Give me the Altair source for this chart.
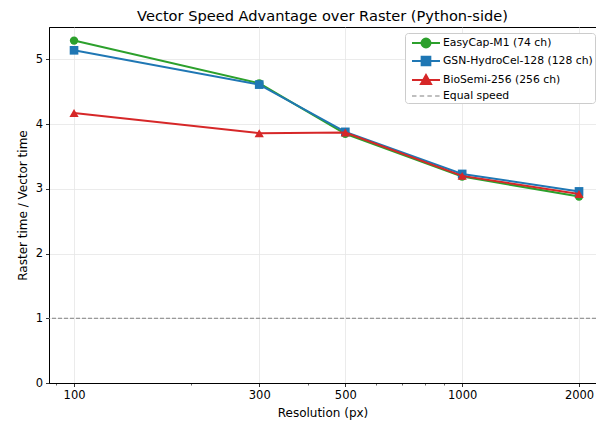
import altair as alt
import pandas as pd

resolution = [100, 300, 500, 1000, 2000]
easycap = [5.29, 4.63, 3.85, 3.19, 2.88]
gsn = [5.14, 4.61, 3.88, 3.23, 2.96]
biosemi = [4.17, 3.86, 3.87, 3.20, 2.92]

series_names = ["EasyCap-M1 (74 ch)", "GSN-HydroCel-128 (128 ch)", "BioSemi-256 (256 ch)"]
series_values = [easycap, gsn, biosemi]
series_colors = ["#2ca02c", "#1f77b4", "#d62728"]
series_shapes = ["circle", "square", "triangle-up"]
series_sizes = [70, 75, 85]
equal_label = "Equal speed"
equal_value = 1.0

x_ticks = [100, 300, 500, 1000, 2000]
x_minor = [90, 200, 400, 600, 700, 800, 900]
y_ticks = [0, 1, 2, 3, 4, 5]

FONT = "DejaVu Sans"

major_test = "indexof([" + ",".join(str(v) for v in x_ticks) + "], datum.value) >= 0"

xscale = alt.Scale(type="log", domain=[86.2, 2212], nice=False)
yscale = alt.Scale(domain=[0, 5.5], nice=False, zero=False)
color_scale = alt.Scale(domain=series_names, range=series_colors)

x_axis = alt.Axis(
    values=sorted(x_ticks + x_minor), title="Resolution (px)", grid=True,
    labelExpr=major_test + " ? format(datum.value, 'd') : ''",
    tickSize={"condition": {"test": major_test, "value": 3.5}, "value": 2},
    tickWidth={"condition": {"test": major_test, "value": 0.8}, "value": 0.6},
    gridOpacity={"condition": {"test": major_test, "value": 1}, "value": 0},
    labelFont=FONT, labelFontSize=11.5, labelColor="black",
    titleFont=FONT, titleFontSize=12, titleColor="black", titleFontWeight="normal",
    titlePadding=6,
)
y_axis = alt.Axis(
    values=y_ticks, format="d", title="Raster time / Vector time", grid=True,
    labelFont=FONT, labelFontSize=11.5, labelColor="black",
    titleFont=FONT, titleFontSize=12, titleColor="black", titleFontWeight="normal",
    titlePadding=6,
)

layers = []
for name, vals, shp, sz in zip(series_names, series_values, series_shapes, series_sizes):
    df = pd.DataFrame({"res": resolution, "ratio": vals, "series": name})
    base = alt.Chart(df).encode(
        x=alt.X("res:Q", scale=xscale, axis=x_axis),
        y=alt.Y("ratio:Q", scale=yscale, axis=y_axis),
        color=alt.Color("series:N", scale=color_scale, legend=None),
    )
    layers.append(base.mark_line(strokeWidth=2))
    layers.append(base.mark_point(shape=shp, filled=True, opacity=1, size=sz))

rule_df = pd.DataFrame({"y": [equal_value]})
rule = alt.Chart(rule_df).mark_rule(color="#808080", strokeWidth=1, strokeDash=[4, 2]).encode(
    y=alt.Y("y:Q", scale=yscale)
)

# legend layer (no visible marks)
legend_names = series_names + [equal_label]
legend_fill = series_colors + ["#808080"]
legend_stroke = series_colors + ["transparent"]
legend_paths = [
    "M-0.43,0L3.57,0M2.21,0A0.64,0.64,0,1,1,0.93,0A0.64,0.64,0,1,1,2.21,0Z",
    "M-0.43,0L3.57,0M0.95,-0.62L2.19,-0.62L2.19,0.62L0.95,0.62Z",
    "M-0.43,0L3.57,0M1.57,-0.72L2.29,0.56L0.85,0.56Z",
    "M-0.43,-0.08L0.21,-0.08L0.21,0.08L-0.43,0.08Z"
    "M0.67,-0.08L1.31,-0.08L1.31,0.08L0.67,0.08Z"
    "M1.77,-0.08L2.41,-0.08L2.41,0.08L1.77,0.08Z"
    "M2.87,-0.08L3.51,-0.08L3.51,0.08L2.87,0.08Z",
]
leg_df = pd.DataFrame({"series": legend_names, "res": [100] * 4, "ratio": [1] * 4})
leg = alt.Chart(leg_df).transform_filter("datum.res < 0").mark_point(filled=True, opacity=1).encode(
    x=alt.X("res:Q", scale=xscale),
    y=alt.Y("ratio:Q", scale=yscale),
    fill=alt.Fill("series:N", scale=alt.Scale(domain=legend_names, range=legend_fill),
                  legend=alt.Legend(title=None, orient="none", legendX=356, legendY=6,
                                    symbolSize=196, symbolStrokeWidth=2, labelOffset=20,
                                    labelFontSize=10.8, labelFont=FONT, labelColor="black",
                                    fillColor="white", strokeColor="#cccccc", cornerRadius=3,
                                    padding=2, rowPadding=0, symbolOpacity=1)),
    stroke=alt.Stroke("series:N", scale=alt.Scale(domain=legend_names, range=legend_stroke)),
    shape=alt.Shape("series:N", scale=alt.Scale(domain=legend_names, range=legend_paths)),
)

chart = alt.layer(*layers, rule, leg).properties(
    width=547,
    height=356,
    title=alt.Title("Vector Speed Advantage over Raster (Python-side)", font=FONT, fontSize=14.6,
                    fontWeight="normal", color="black", anchor="middle", offset=3),
    autosize=alt.AutoSizeParams(type="none"),
    padding={"left": 41, "top": 19, "right": 0, "bottom": 37},
    background="white",
).configure_view(stroke="black", strokeWidth=1).configure_axis(
    tickColor="black", tickSize=3.5, tickWidth=0.8,
    domainColor="black", domainWidth=1,
    gridColor="#e6e6e6", gridWidth=0.8,
    labelPadding=3,
)

chart.save("out.html", embed_options={"renderer": "svg", "actions": False})
